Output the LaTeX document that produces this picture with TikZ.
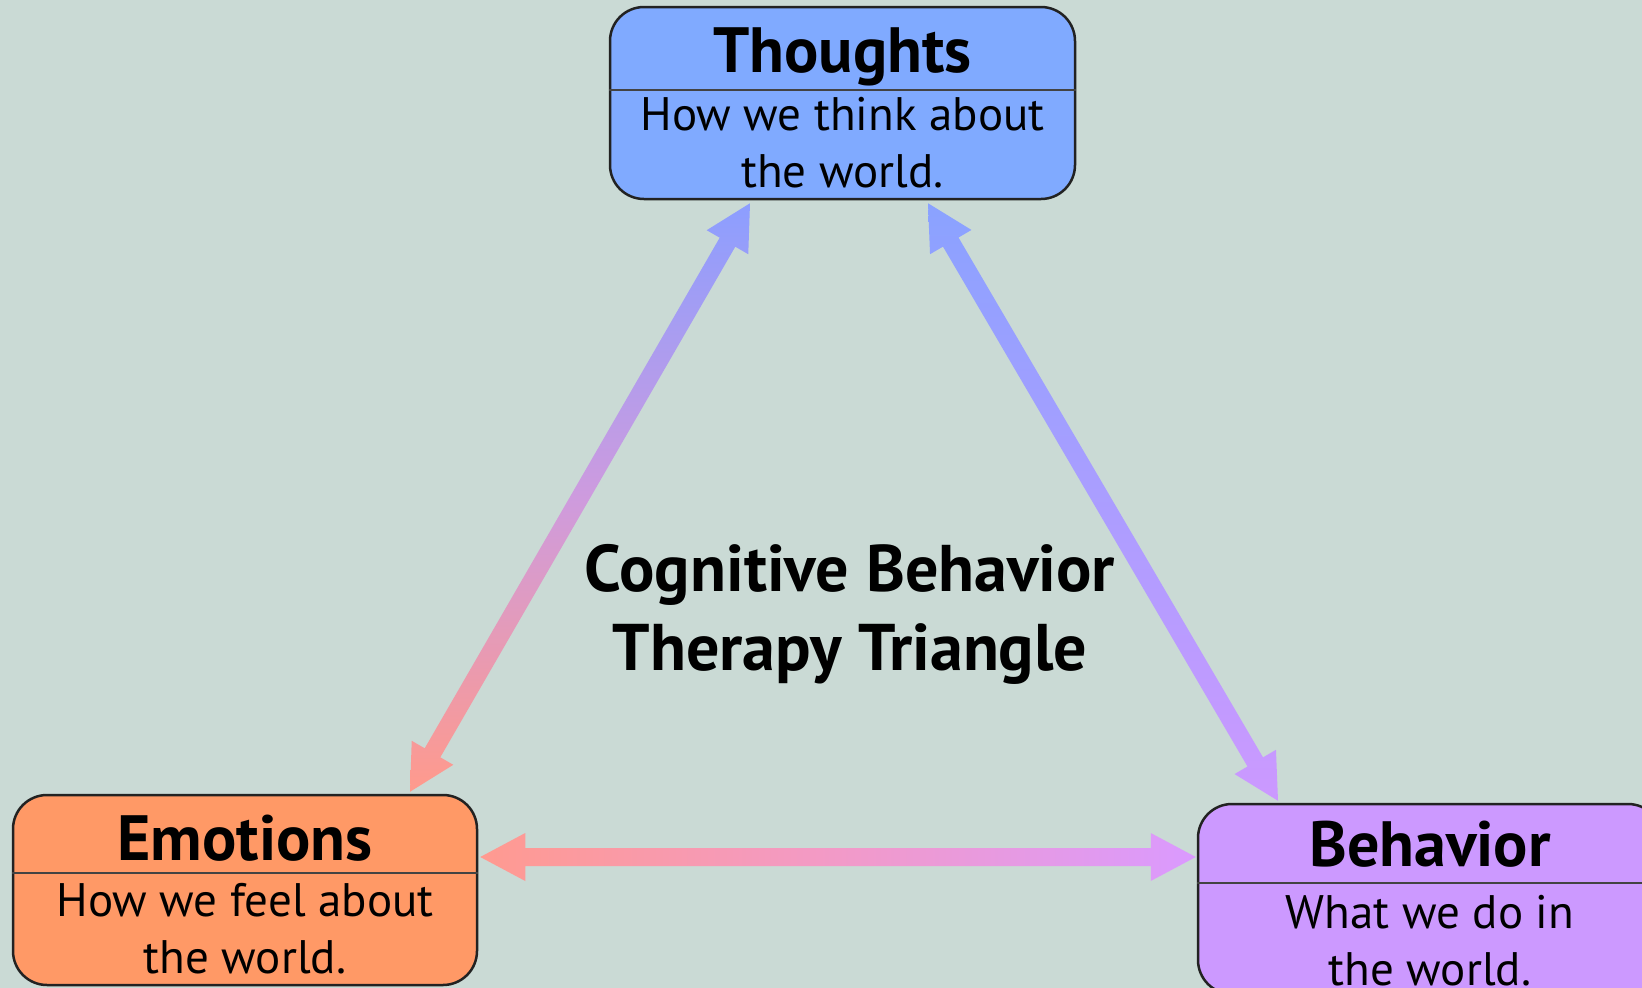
\documentclass[tikz,border=0pt]{standalone}
\usepackage{fontspec}
\setmainfont{PT Sans}
\usetikzlibrary{calc}

\definecolor{bg}{HTML}{CADAD5}
\definecolor{thoughtfill}{HTML}{80AAFF}
\definecolor{emofill}{HTML}{FF9966}
\definecolor{behfill}{HTML}{CC99FF}
\definecolor{edge}{HTML}{222222}
\definecolor{arrblue}{HTML}{8C9EFF}
\definecolor{arrblueB}{HTML}{8AA2FF}
\definecolor{arrsalmon}{HTML}{FF9A8C}
\definecolor{arrmix}{HTML}{CE9BDE}
\definecolor{arrpurple}{HTML}{CC99FF}
\definecolor{arrcoral}{HTML}{FF9A90}
\definecolor{arrpink}{HTML}{F29AC8}
\definecolor{arrlilac}{HTML}{DA9AFF}

\tikzset{
  box/.style={draw=edge, line width=2.5pt, rounded corners=34pt,
    minimum width=464pt, minimum height=190pt, inner sep=0pt},
  boxtitle/.style={anchor=base, inner sep=0pt,
    font=\bfseries\fontsize{64}{70}\selectfont},
  boxdesc/.style={anchor=base, align=center, inner sep=0pt,
    font=\fontsize{47}{57}\selectfont},
  divider/.style={draw=edge!85, line width=1.5pt},
  headline/.style={anchor=base, align=center, inner sep=0pt,
    font=\bfseries\fontsize{66}{79}\selectfont},
}

% double-headed block arrow between two tips, filled with a shading
\newcommand{\gradarrow}[3]{%
  \path[#3] (#1)
    -- ($(#1)!45pt!(#2)!24pt!90:(#2)$)
    -- ($(#1)!45pt!(#2)!9pt!90:(#2)$)
    -- ($(#2)!45pt!(#1)!9pt!-90:(#1)$)
    -- ($(#2)!45pt!(#1)!24pt!-90:(#1)$)
    -- (#2)
    -- ($(#2)!45pt!(#1)!24pt!90:(#1)$)
    -- ($(#2)!45pt!(#1)!9pt!90:(#1)$)
    -- ($(#1)!45pt!(#2)!9pt!-90:(#2)$)
    -- ($(#1)!45pt!(#2)!24pt!-90:(#2)$)
    -- cycle;}

\begin{document}
\begin{tikzpicture}[x=1pt,y=-1pt]
  \useasboundingbox (0,0) rectangle (1642,988);
  \clip (0,0) rectangle (1642,988);
  \fill[bg] (0,0) rectangle (1642,988);

  % the three boxes
  \node[box, fill=thoughtfill, minimum width=465pt, minimum height=192pt]
    (thoughts) at (842.5,103) {};
  \node[box, fill=emofill] (emotions) at (245,890) {};
  \node[box, fill=behfill] (behavior) at (1430,899) {};

  \draw[divider] ($(thoughts.north west)+(0,84)$) -- ($(thoughts.north east)+(0,84)$);
  \draw[divider] ($(emotions.north west)+(0,79)$) -- ($(emotions.north east)+(0,79)$);
  \draw[divider] ($(behavior.north west)+(0,80)$) -- ($(behavior.north east)+(0,80)$);

  % titles sit on their baselines; descriptions are placed by their last line
  \node[boxtitle] (thoughtsT) at (842.5,72) {Thoughts};
  \node[boxdesc]  (thoughtsD) at (842.5,187) {How we think about\\the world.};
  \node[boxtitle] (emotionsT) at (245,860) {Emotions};
  \node[boxdesc]  (emotionsD) at (245,973) {How we feel about\\the world.};
  \node[boxtitle] (behaviorT) at (1430,866) {Behavior};
  \node[boxdesc]  (behaviorD) at (1430,985) {What we do in\\the world.};

  \node[headline] (heading) at (850,670) {Cognitive Behavior\\Therapy Triangle};

  % arrow tips on the box borders
  \coordinate (tL) at ($(thoughts.south)+(-92.5,3)$);
  \coordinate (tR) at ($(thoughts.south)+(85.5,3)$);
  \coordinate (eT) at ($(emotions.north)+(165,-2)$);
  \coordinate (eR) at ($(emotions.east)+(2,-33)$);
  \coordinate (bT) at ($(behavior.north)+(-152,-2)$);
  \coordinate (bL) at ($(behavior.west)+(-1,-42)$);

  \gradarrow{eT}{tL}{top color=arrblue, bottom color=arrsalmon, middle color=arrmix}
  \gradarrow{tR}{bT}{top color=arrblueB, bottom color=arrpurple}
  \gradarrow{eR}{bL}{left color=arrcoral, right color=arrlilac, middle color=arrpink}
\end{tikzpicture}
\end{document}
